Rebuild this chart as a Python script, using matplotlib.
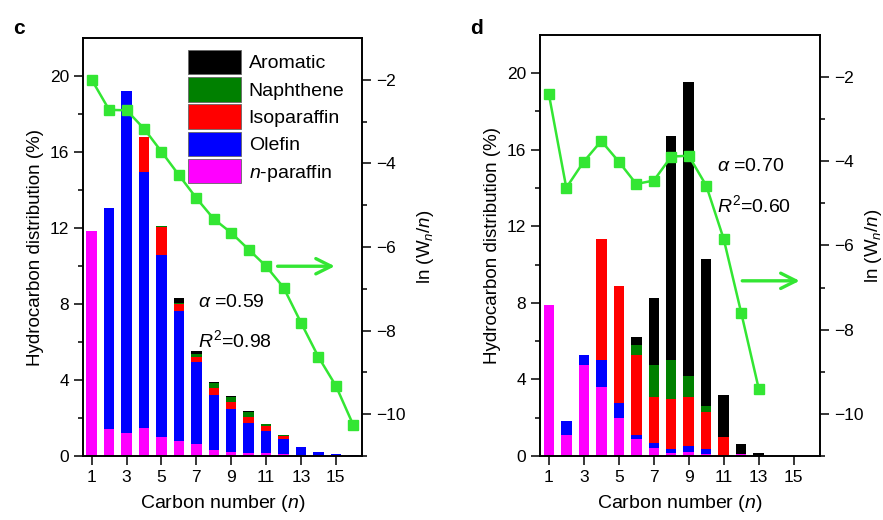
import numpy as np
import matplotlib
matplotlib.use('Agg')
from matplotlib import pyplot as plt
from matplotlib.patches import Patch

plt.rcParams['font.family'] = ['Liberation Sans', 'DejaVu Sans']
plt.rcParams['mathtext.fontset'] = 'custom'
plt.rcParams['mathtext.rm'] = 'Liberation Sans'
plt.rcParams['mathtext.it'] = 'Liberation Sans:italic'
plt.rcParams['axes.linewidth'] = 1.2

# panel c: product distribution by carbon number (wt%)
n_c = np.arange(1, 17)
nparaffin_c = [11.84, 1.40, 1.23, 1.46, 1.02, 0.79, 0.61, 0.32, 0.23, 0.18, 0.14, 0.10, 0.07, 0.04, 0.03, 0.02]
olefin_c = [0, 11.64, 18.00, 13.50, 9.54, 6.86, 4.34, 2.87, 2.23, 1.54, 1.19, 0.78, 0.42, 0.17, 0.07, 0.03]
isoparaffin_c = [0, 0, 0, 1.81, 1.51, 0.33, 0.24, 0.37, 0.36, 0.35, 0.25, 0.17, 0, 0, 0, 0]
naphthene_c = [0, 0, 0, 0, 0.05, 0.06, 0.16, 0.26, 0.30, 0.26, 0.12, 0.04, 0, 0, 0, 0]
aromatic_c = [0, 0, 0, 0, 0, 0.26, 0.18, 0.06, 0.04, 0.04, 0, 0, 0, 0, 0, 0]
asf_c = [-2.00, -2.72, -2.73, -3.17, -3.72, -4.28, -4.83, -5.33, -5.66, -6.06, -6.46, -6.97, -7.81, -8.63, -9.32, -10.26]

# panel d
n_d = np.arange(1, 14)
nparaffin_d = [7.91, 1.10, 4.73, 3.58, 1.97, 0.87, 0.44, 0.14, 0.19, 0.10, 0.02, 0.09, 0]
olefin_d = [0, 0.75, 0.56, 1.45, 0.79, 0.21, 0.22, 0.21, 0.35, 0.25, 0, 0, 0]
isoparaffin_d = [0, 0, 0, 6.32, 6.11, 4.21, 2.40, 2.62, 2.53, 1.97, 0.99, 0, 0]
naphthene_d = [0, 0, 0, 0, 0.03, 0.53, 1.67, 2.03, 1.12, 0.30, 0, 0, 0]
aromatic_d = [0, 0, 0, 0, 0, 0.40, 3.53, 11.73, 15.34, 7.69, 2.19, 0.54, 0.14]
asf_d = [-2.40, -4.63, -4.01, -3.52, -4.01, -4.54, -4.46, -3.89, -3.87, -4.58, -5.85, -7.60, -9.40]

labels = ['$n$-paraffin', 'Olefin', 'Isoparaffin', 'Naphthene', 'Aromatic']
colors = ['#ff00ff', '#0000ff', '#ff0000', '#008000', '#000000']
green = '#33e633'


def panel(rect, n, parts, asf, letter, alpha_txt, r2_txt, txt_xy, arrow_xy, rpad):
    ax = fig.add_axes(rect)
    bottom = np.zeros(len(n))
    for vals, c in zip(parts, colors):
        ax.bar(n, vals, width=0.6, bottom=bottom, color=c, linewidth=0)
        bottom += np.array(vals)
    ax.set_xlim(0.5, 16.5)
    ax.set_ylim(0, 22)
    ax.set_xticks(np.arange(1, 16, 2))
    ax.set_yticks(np.arange(0, 21, 4))
    ax.set_yticks(np.arange(2, 22, 4), minor=True)
    ax.tick_params(which='major', length=6.5, width=1.1, labelsize=12.5)
    ax.tick_params(which='minor', length=3.5, width=1.1)
    ax.set_xlabel('Carbon number ($n$)', fontsize=14, labelpad=6)
    ax.set_ylabel('Hydrocarbon distribution (%)', fontsize=13.5, labelpad=4)

    ax2 = ax.twinx()
    ax2.plot(n, asf, '-s', color=green, lw=1.8, ms=6.5)
    ax2.set_ylim(-11, -1)
    ax2.set_yticks(np.arange(-10, -1, 2))
    ax2.set_yticks(np.arange(-11, -1, 2), minor=True)
    ax2.tick_params(which='major', length=6.5, width=1.1, labelsize=12.5)
    ax2.tick_params(which='minor', length=3.5, width=1.1)
    ax2.set_ylabel('ln (W$_{n}$/$n$)', fontsize=13.5, labelpad=rpad)

    ax.text(txt_xy[0], txt_xy[1], alpha_txt, fontsize=14, va='center')
    ax.text(txt_xy[0], txt_xy[1] - 2.0, r2_txt, fontsize=14, va='center')
    ax2.annotate('', xy=(arrow_xy[1], arrow_xy[2]), xytext=(arrow_xy[0], arrow_xy[2]),
                 arrowprops=dict(arrowstyle='->,head_length=1.1,head_width=0.55',
                                 color=green, lw=2.4))
    fig.text(rect[0] - 0.079, 0.935, letter, fontsize=15, fontweight='bold', va='baseline')
    return ax


fig = plt.figure(figsize=(8.83, 5.2), dpi=100)

ax_c = panel([0.094, 0.123, 0.316, 0.804], n_c,
             [nparaffin_c, olefin_c, isoparaffin_c, naphthene_c, aromatic_c], asf_c,
             'c', r'$\alpha$ =0.59', '$R^2$=0.98', (7.1, 8.1), (11.5, 15.1, -6.46), 7)
ax_d = panel([0.6116, 0.123, 0.317, 0.81], n_d,
             [nparaffin_d, olefin_d, isoparaffin_d, naphthene_d, aromatic_d], asf_d,
             'd', r'$\alpha$ =0.70', '$R^2$=0.60', (10.6, 15.1), (11.9, 15.5, -6.84), 0)

handles = [Patch(facecolor=c, edgecolor='#666666', linewidth=0.6) for c in colors]
ax_c.legend(handles[::-1], labels[::-1], loc='upper left', bbox_to_anchor=(0.35, 0.99),
            frameon=False, fontsize=14, handlelength=2.7, handleheight=1.55,
            labelspacing=0.15, handletextpad=0.4, borderaxespad=0)

fig.savefig('out.png', dpi=100)
